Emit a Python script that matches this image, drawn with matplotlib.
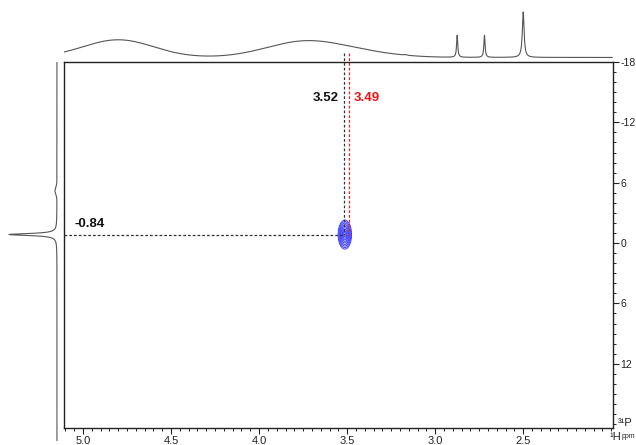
"""2D 1H-31P HMBC-style plot with projections, recreated in matplotlib."""

import matplotlib
matplotlib.use("Agg")
import matplotlib.pyplot as plt
import numpy as np

plt.rcParams["font.family"] = ["Liberation Sans", "DejaVu Sans"]

# --- data ------------------------------------------------------------------
# 1H projection (top): peak centres (ppm), heights, widths (ppm)
h_ppm = [4.80, 3.74, 3.40, 3.17, 2.875, 2.72, 2.50]
h_height = [0.31, 0.28, 0.06, 0.01, 0.39, 0.39, 0.80]
h_width = [0.20, 0.22, 0.20, 0.01, 0.004, 0.004, 0.006]
h_baseline = 0.08

# 31P projection (left): peak centres (ppm), heights, widths (ppm)
p_ppm = [-0.84, -5.2]
p_height = [0.75, 0.03]
p_width = [0.12, 0.35]
p_baseline = 0.11

# cross peak
cross_h = 3.513
cross_p = -0.84
cross_sig_h = 0.019
cross_sig_p = 0.72

# annotated shifts
mark_black_h = 3.52
mark_red_h = 3.49
mark_p = -0.84

x_ticks = [5.0, 4.5, 4.0, 3.5, 3.0, 2.5]
x_ticklabels = ["5.0", "4.5", "4.0", "3.5", "3.0", "2.5"]
y_ticks = [-18, -12, -6, 0, 6, 12]
y_ticklabels = ["-18", "-12", "6", "0", "6", "12"]

XLIM = (5.108, 1.99)
YLIM = (18.39, -18)

W, H = 636, 445


def box(l, t, r, b):
    return [l / W, 1 - b / H, (r - l) / W, (b - t) / H]


def trace(axis, centres, heights, widths, base, lorentz_below=0.05):
    out = np.full_like(axis, base)
    for c, h, w in zip(centres, heights, widths):
        if w < lorentz_below:
            out += h / (1 + ((axis - c) / w) ** 2)
        else:
            out += h * np.exp(-0.5 * ((axis - c) / w) ** 2)
    return out


fig = plt.figure(figsize=(6.36, 4.45), dpi=100)

# main 2D axes
ax = fig.add_axes(box(64, 62, 613, 428))
ax.set_xlim(*XLIM)
ax.set_ylim(*YLIM)

gx = np.linspace(3.40, 3.63, 300)
gy = np.linspace(-4.5, 3.0, 300)
GX, GY = np.meshgrid(gx, gy)
Z = np.exp(-0.5 * ((GX - cross_h) / cross_sig_h) ** 2
           - 0.5 * ((GY - cross_p) / cross_sig_p) ** 2)
levels = np.exp(-0.5 * np.linspace(2.0, 0.3, 9) ** 2)
ax.contour(GX, GY, Z, levels=levels, colors="#4040ff", linewidths=0.7)

dash = (0, (2.2, 1.6))
ax.plot([mark_black_h, mark_black_h], [-18.9, mark_p], ls=dash, color="#333333",
        lw=0.9, clip_on=False, zorder=3)
ax.plot([mark_red_h, mark_red_h], [-18.9, mark_p], ls=dash, color="#ee2222",
        lw=0.9, clip_on=False, zorder=3)
ax.plot([XLIM[0], mark_black_h], [mark_p, mark_p], ls=dash, color="#333333",
        lw=0.9, zorder=3)

ax.text(3.55, -14.4, f"{mark_black_h:.2f}", ha="right", va="center",
        fontsize=9.5, fontweight="bold", color="#111111")
ax.text(3.465, -14.4, f"{mark_red_h:.2f}", ha="left", va="center",
        fontsize=9.5, fontweight="bold", color="#ee1111")
ax.text(5.05, -1.3, f"{mark_p:.2f}", ha="left", va="bottom",
        fontsize=9.5, fontweight="bold", color="#111111")

ax.set_xticks(x_ticks)
ax.set_xticklabels(x_ticklabels)
ax.set_xticks(np.arange(5.10, 1.99, -0.05), minor=True)
ax.yaxis.tick_right()
ax.set_yticks(y_ticks)
ax.set_yticklabels(y_ticklabels)
ax.set_yticks(np.arange(-18, 19, 1), minor=True)
ax.tick_params(which="major", length=4, width=0.8, labelsize=8,
               colors="#222222", pad=2)
ax.tick_params(axis="y", which="major", labelsize=7.5, pad=1.5)
ax.tick_params(which="minor", length=2, width=0.7, colors="#222222")
ax.tick_params(axis="y", which="both", right=True, left=False)
for s in ax.spines.values():
    s.set_linewidth(1.0)
    s.set_color("#222222")

# top 1H projection
axt = fig.add_axes(box(64, 5, 613, 62))
hx = np.linspace(XLIM[0], 1.995, 4000)
axt.plot(hx, trace(hx, h_ppm, h_height, h_width, h_baseline),
         color="#555555", lw=0.8)
axt.set_xlim(*XLIM)
axt.set_ylim(0, 1)
axt.axis("off")

# left 31P projection
axl = fig.add_axes(box(0, 62, 64, 441))
py = np.linspace(-18, 19.7, 4000)
axl.plot(trace(py, p_ppm, p_height, p_width, p_baseline, lorentz_below=0.2), py,
         color="#555555", lw=0.8)
axl.set_xlim(1, 0)
axl.set_ylim(19.7, -18)
axl.axis("off")

# axis nucleus labels
fig.text(618 / W, 1 - 423 / H, "³¹P", fontsize=8, color="#222222",
         ha="left", va="center")
fig.text(610 / W, 1 - 437 / H, "¹H", fontsize=8, color="#222222",
         ha="left", va="center")
fig.text(622 / W, 1 - 436 / H, "ppm", fontsize=5, color="#222222",
         ha="left", va="center")

fig.savefig("out.png", dpi=100)
